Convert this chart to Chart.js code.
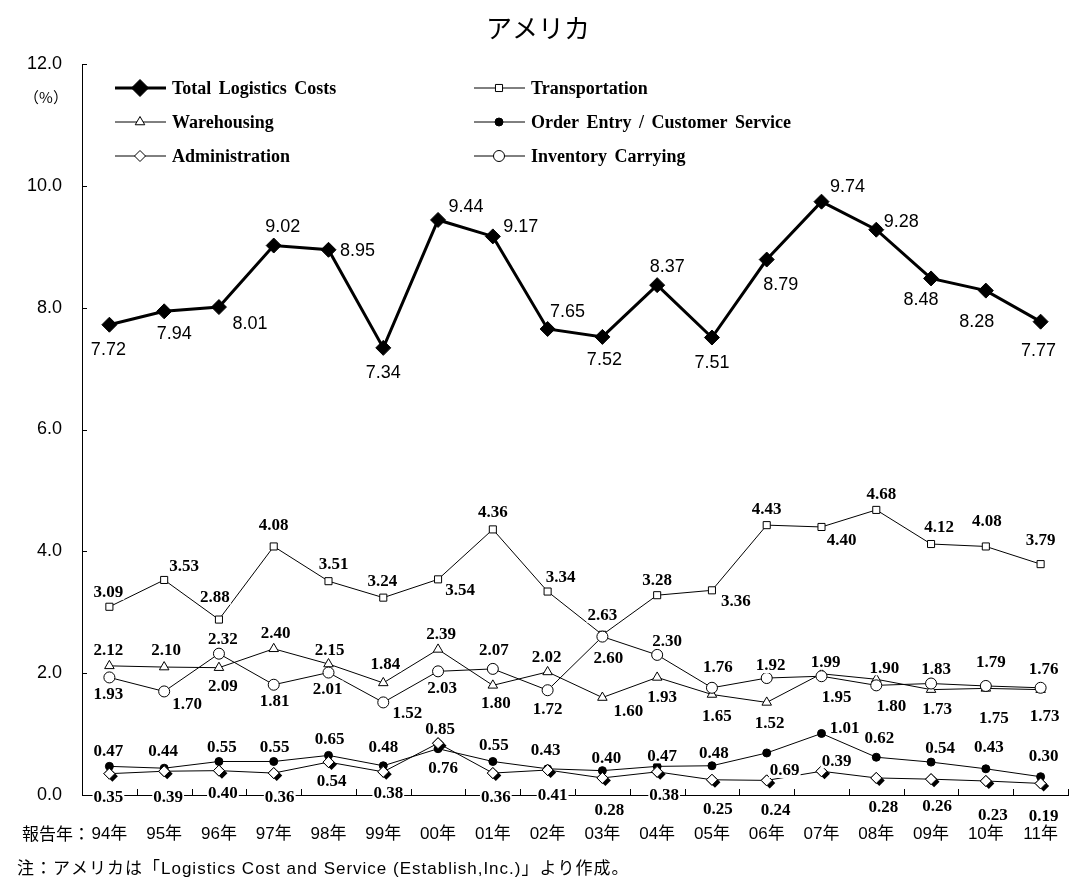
<!DOCTYPE html>
<html>
<head>
<meta charset="utf-8">
<script src="https://cdn.jsdelivr.net/npm/chart.js@4.4.1/dist/chart.umd.min.js"></script>
<style>
    body { margin: 0; background: #fff; }
    canvas { display: block; }
</style>
</head>
<body>
<canvas id="logisticsChart" width="1071" height="886"></canvas>
<script>
// data (% of sales)
var years = ['94年', '95年', '96年', '97年', '98年', '99年', '00年', '01年', '02年',
             '03年', '04年', '05年', '06年', '07年', '08年', '09年', '10年', '11年'];
var totalCosts = [7.72, 7.94, 8.01, 9.02, 8.95, 7.34, 9.44, 9.17, 7.65, 7.52, 8.37, 7.51, 8.79, 9.74, 9.28, 8.48, 8.28, 7.77];
var transportation = [3.09, 3.53, 2.88, 4.08, 3.51, 3.24, 3.54, 4.36, 3.34, 2.63, 3.28, 3.36, 4.43, 4.40, 4.68, 4.12, 4.08, 3.79];
var warehousing = [2.12, 2.10, 2.09, 2.40, 2.15, 1.84, 2.39, 1.80, 2.02, 1.60, 1.93, 1.65, 1.52, 1.99, 1.90, 1.73, 1.75, 1.73];
var orderEntry = [0.47, 0.44, 0.55, 0.55, 0.65, 0.48, 0.76, 0.55, 0.43, 0.40, 0.47, 0.48, 0.69, 1.01, 0.62, 0.54, 0.43, 0.30];
var administration = [0.35, 0.39, 0.40, 0.36, 0.54, 0.38, 0.85, 0.36, 0.41, 0.28, 0.38, 0.25, 0.24, 0.39, 0.28, 0.26, 0.23, 0.19];
var inventoryCarrying = [1.93, 1.70, 2.32, 1.81, 2.01, 1.52, 2.03, 2.07, 1.72, 2.60, 2.30, 1.76, 1.92, 1.95, 1.80, 1.83, 1.79, 1.76];

// where each value label sits relative to its point (dx, dy in px)
var totalLabelPos = [[-1,24],[10,22],[31,16],[9,-20],[29,0],[0,24],[28,-14],[28,-10],[20,-18],
                     [2,22],[10,-19],[0,25],[14,24],[26,-16],[25,-9],[-10,21],[-9,30],[-2,28]];
var transLabelPos = [[-1,-15],[20,-14],[-4,-23],[0,-22],[5,-18],[-1,-17],[22,10],[0,-18],[13,-15],
                     [0,-20],[0,-16],[24,10],[0,-17],[20,13],[5,-16],[8,-17],[1,-26],[0,-25]];
var wareLabelPos = [[-1,-16],[2,-17],[4,18],[2,-16],[1,-14],[2,-19],[3,-16],[3,17],[-1,-15],
                    [26,13],[5,19],[5,21],[3,20],[4,-12],[8,-12],[6,19],[8,29],[4,26]];
var orderLabelPos = [[-1,-16],[-1,-18],[3,-15],[1,-15],[1,-17],[0,-19],[5,19],[1,-17],[-2,-19],
                     [4,-13],[5,-11],[2,-13],[18,17],[23,-6],[3,-20],[9,-14],[3,-22],[3,-21]];
var adminLabelPos = [[-1,23],[4,25],[4,22],[6,24],[3,19],[5,21],[2,-15],[3,24],[5,25],
                     [7,32],[7,23],[6,29],[9,29],[15,-11],[7,29],[6,26],[7,34],[3,32]];
var invLabelPos = [[-1,16],[23,12],[4,-15],[1,16],[-1,16],[24,10],[4,16],[1,-19],[0,18],
                   [6,21],[10,-14],[6,-21],[4,-13],[15,20],[15,20],[5,-15],[5,-24],[3,-19]];

var sansFont = '"Liberation Sans", Arial, "Noto Sans CJK JP", sans-serif';
var serifLabel = 'bold 17px "Liberation Serif", "Times New Roman", serif';

var datasets = [
    { label: 'Total Logistics Costs', data: totalCosts, borderColor: '#000', borderWidth: 3,
      pointStyle: 'rectRot', pointRadius: 7.5, pointBackgroundColor: '#000', pointBorderColor: '#000',
      pointBorderWidth: 1, order: 0, labelPos: totalLabelPos, labelFont: '18px ' + sansFont },
    { label: 'Transportation', data: transportation, borderColor: '#000', borderWidth: 1,
      pointStyle: 'rect', pointRadius: 5, pointBackgroundColor: '#fff', pointBorderColor: '#000',
      pointBorderWidth: 1, order: 5, labelPos: transLabelPos, labelFont: serifLabel },
    { label: 'Warehousing', data: warehousing, borderColor: '#000', borderWidth: 1,
      pointStyle: 'triangle', pointRadius: 5.5, pointBackgroundColor: '#fff', pointBorderColor: '#000',
      pointBorderWidth: 1, order: 4, labelPos: wareLabelPos, labelFont: serifLabel },
    { label: 'Order Entry / Customer Service', data: orderEntry, borderColor: '#000', borderWidth: 1,
      pointStyle: 'circle', pointRadius: 4, pointBackgroundColor: '#000', pointBorderColor: '#000',
      pointBorderWidth: 1, order: 3, labelPos: orderLabelPos, labelFont: serifLabel },
    { label: 'Administration', data: administration, borderColor: '#000', borderWidth: 1,
      pointStyle: 'rectRot', pointRadius: 5.5, pointBackgroundColor: '#fff', pointBorderColor: '#000',
      pointBorderWidth: 1, order: 2, labelPos: adminLabelPos, labelFont: serifLabel, shadow: true },
    { label: 'Inventory Carrying', data: inventoryCarrying, borderColor: '#000', borderWidth: 1,
      pointStyle: 'circle', pointRadius: 5.5, pointBackgroundColor: '#fff', pointBorderColor: '#000',
      pointBorderWidth: 1, order: 1, labelPos: invLabelPos, labelFont: serifLabel }
];
datasets.forEach(function (d) { d.tension = 0; d.fill = false; });

// legend grid: [column, row] for each dataset
var legendSlots = [[0, 0], [1, 0], [0, 1], [1, 1], [0, 2], [1, 2]];
var legendColX = [115, 474];
var legendRowY = [88, 122, 156];

// inward tick marks like the original
var tickMarks = {
    id: 'tickMarks',
    beforeDatasetsDraw: function (chart) {
        var ctx = chart.ctx, area = chart.chartArea;
        var xs = chart.scales.x, ys = chart.scales.y;
        ctx.save();
        ctx.strokeStyle = '#000';
        ctx.lineWidth = 1;
        ctx.beginPath();
        ys.ticks.forEach(function (t, i) {
            var py = Math.round(ys.getPixelForTick(i)) + 0.5;
            ctx.moveTo(area.left, py);
            ctx.lineTo(area.left + 5, py);
        });
        for (var i = 0; i < years.length; i++) {
            var px = Math.round(xs.getPixelForValue(i + 0.5)) + 0.5;
            ctx.moveTo(px, area.bottom);
            ctx.lineTo(px, area.bottom - 6);
        }
        ctx.stroke();
        ctx.restore();
    }
};

// black drop shadow behind the Administration diamonds
var diamondShadow = {
    id: 'diamondShadow',
    afterDatasetDraw: function (chart, args) {
        var ds = chart.data.datasets[args.index];
        if (!ds.shadow) return;
        var ctx = chart.ctx;
        ctx.save();
        ctx.fillStyle = '#000';
        args.meta.data.forEach(function (pt) {
            Chart.helpers.drawPoint(ctx, { pointStyle: 'rectRot', radius: ds.pointRadius, rotation: 0, borderWidth: 0 },
                pt.x + 3, pt.y + 2.5);
        });
        ctx.restore();
        args.meta.data.forEach(function (pt) { pt.draw(ctx, chart.chartArea); });
    }
};

// value labels with white boxes
var valueLabels = {
    id: 'valueLabels',
    afterDatasetsDraw: function (chart) {
        var ctx = chart.ctx;
        ctx.save();
        ctx.textAlign = 'center';
        ctx.textBaseline = 'middle';
        chart.data.datasets.forEach(function (ds, di) {
            var meta = chart.getDatasetMeta(di);
            ctx.font = ds.labelFont;
            meta.data.forEach(function (pt, i) {
                var txt = ds.data[i].toFixed(2);
                var x = pt.x + ds.labelPos[i][0];
                var y = pt.y + ds.labelPos[i][1];
                var w = ctx.measureText(txt).width;
                ctx.fillStyle = '#fff';
                ctx.fillRect(x - w / 2 - 1, y - 8, w + 2, 16);
                ctx.fillStyle = '#000';
                ctx.fillText(txt, x, y + 1);
            });
        });
        ctx.restore();
    }
};

// legend drawn inside the plot, two columns
var insideLegend = {
    id: 'insideLegend',
    afterDraw: function (chart) {
        var ctx = chart.ctx;
        ctx.save();
        chart.data.datasets.forEach(function (ds, di) {
            var x = legendColX[legendSlots[di][0]];
            var y = legendRowY[legendSlots[di][1]];
            ctx.strokeStyle = '#000';
            ctx.lineWidth = ds.borderWidth;
            ctx.beginPath();
            ctx.moveTo(x, y);
            ctx.lineTo(x + 51, y);
            ctx.stroke();
            ctx.fillStyle = ds.pointBackgroundColor;
            ctx.lineWidth = 1;
            Chart.helpers.drawPoint(ctx, { pointStyle: ds.pointStyle, radius: di === 0 ? 8.5 : ds.pointRadius,
                rotation: 0, borderWidth: 1 }, x + 25, y);
            ctx.fillStyle = '#000';
            ctx.font = 'bold 18px "Liberation Serif", "Times New Roman", serif';
            ctx.wordSpacing = '3px';
            ctx.textAlign = 'left';
            ctx.textBaseline = 'middle';
            ctx.fillText(ds.label, x + 57, y + 1);
        });
        ctx.restore();
    }
};

// title, unit and notes
var extraTexts = {
    id: 'extraTexts',
    afterDraw: function (chart) {
        var ctx = chart.ctx;
        ctx.save();
        ctx.fillStyle = '#000';
        ctx.textBaseline = 'middle';
        ctx.textAlign = 'center';
        ctx.font = '26px "Noto Sans CJK JP", sans-serif';
        ctx.fillText('アメリカ', 538, 28);
        ctx.font = '15px "Noto Sans CJK JP", sans-serif';
        ctx.fillText('（%）', 46, 97);
        ctx.textAlign = 'right';
        ctx.font = '17px "Noto Sans CJK JP", sans-serif';
        ctx.fillText('報告年：', 90, 834);
        ctx.textAlign = 'left';
        ctx.font = '17px ' + sansFont;
        ctx.letterSpacing = '1px';
        ctx.fillText('注：アメリカは「Logistics Cost and Service (Establish,Inc.)」より作成。', 17, 869);
        ctx.restore();
    }
};

var ctx = document.getElementById('logisticsChart').getContext('2d');
var logisticsChart = new Chart(ctx, {
    type: 'line',
    data: { labels: years, datasets: datasets },
    options: {
        responsive: false,
        animation: false,
        layout: { autoPadding: false, padding: { left: 10, right: 3, top: 64, bottom: 0 } },
        plugins: { legend: { display: false }, tooltip: { enabled: false } },
        scales: {
            x: {
                offset: true,
                // invisible tick marks only push the labels down
                grid: { display: true, drawOnChartArea: false, drawTicks: true, tickLength: 29,
                        color: 'rgba(0,0,0,0)' },
                border: { display: true, color: '#000', width: 1 },
                ticks: { color: '#000', padding: 0, maxRotation: 0, autoSkip: false,
                         font: { family: sansFont, size: 17 } },
                afterFit: function (s) { s.height = 91; s.paddingLeft = 0; s.paddingRight = 0; }
            },
            y: {
                min: 0,
                max: 12,
                grid: { display: false, drawTicks: false },
                border: { display: true, color: '#000', width: 1 },
                ticks: { stepSize: 2, color: '#000', padding: 20, font: { family: sansFont, size: 18 },
                         callback: function (v) { return v.toFixed(1); } },
                afterFit: function (s) { s.width = 72; }
            }
        }
    },
    plugins: [tickMarks, diamondShadow, valueLabels, insideLegend, extraTexts]
});
</script>
</body>
</html>
